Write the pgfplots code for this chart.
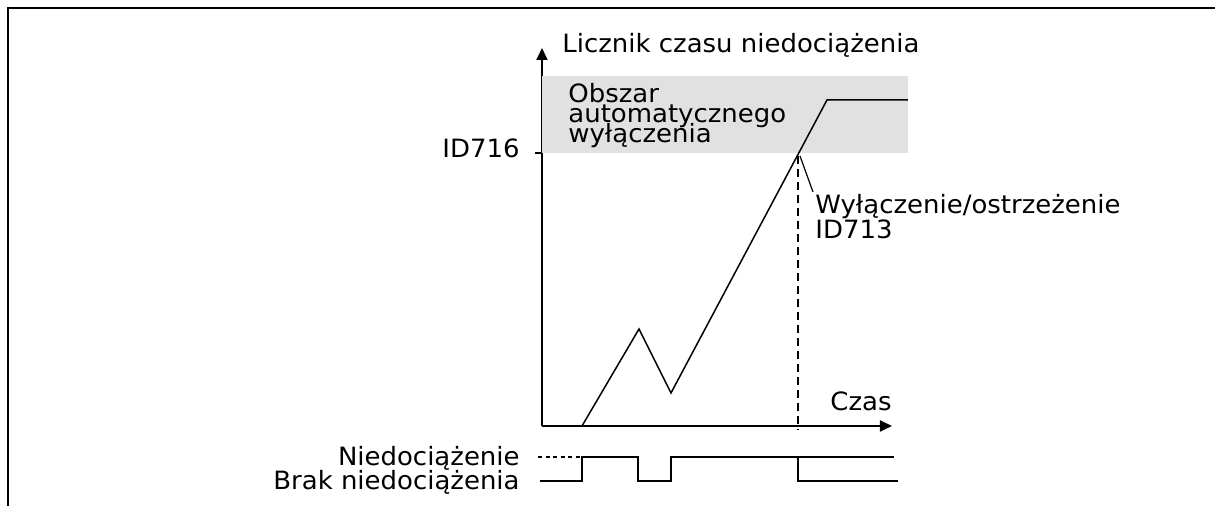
\documentclass[border=0pt]{standalone}
\usepackage{fontspec}
\setmainfont{DejaVu Sans}[FakeStretch=1.03]
\usepackage{pgfplots}
\pgfplotsset{compat=1.18}
\usetikzlibrary{arrows.meta}

\definecolor{band}{HTML}{E1E1E1}

\begin{document}
\begin{tikzpicture}[font=\fontsize{12.6}{10}\selectfont]
% 1 unit = 1 px of the reference (0.5pt)
\begin{axis}[
  scale only axis,
  width=175pt, height=189pt,
  xmin=0, xmax=350, ymin=0, ymax=378,
  axis lines=left,
  axis line style={line width=0.9pt, -{Triangle[length=6pt,width=5.5pt]}},
  xtick=\empty,
  ytick={273}, yticklabels={},
  tick style={black, line width=0.8pt},
  tick align=outside, major tick length=3.5pt,
  clip=false,
]
% auto trip area
\addplot[fill=band, draw=none] coordinates {(0,273) (366,273) (366,350) (0,350)} -- cycle;

% underload counter
\addplot[black, line width=0.75pt] coordinates {
  (0,0) (40,0) (97,97) (129,33) (285,326) (366,326)};

% trip / warning instant
\addplot[black, line width=0.7pt, dash pattern=on 4pt off 2.5pt] coordinates {(256,270) (256,-4)};
\addplot[black, line width=0.6pt] coordinates {(258,270) (271,234)};

% underload signal
\addplot[black, line width=0.75pt] coordinates {
  (-2,-55) (40,-55) (40,-31) (96,-31) (96,-55) (129,-55) (129,-31)
  (256,-31) (256,-55) (356,-55)};
\addplot[black, line width=0.75pt] coordinates {(256,-31) (352,-31)};
\addplot[black, line width=0.7pt, dash pattern=on 2pt off 1.8pt] coordinates {(-4,-31) (40,-31)};

% texts
\node[anchor=base west, inner sep=0pt] at (axis cs:20,373) {Licznik czasu niedociążenia};
\node[anchor=base west, inner sep=0pt] at (axis cs:26,323) {Obszar};
\node[anchor=base west, inner sep=0pt] at (axis cs:26,303) {automatycznego};
\node[anchor=base west, inner sep=0pt] at (axis cs:26,283) {wyłączenia};
\node[anchor=base east, inner sep=0pt] at (axis cs:-22,268.3) {ID716};
\node[anchor=base west, inner sep=0pt] at (axis cs:273,212) {Wyłączenie/ostrzeżenie};
\node[anchor=base west, inner sep=0pt] at (axis cs:273,187) {ID713};
\node[anchor=base east, inner sep=0pt] at (axis cs:350,15) {Czas};
\node[anchor=base east, inner sep=0pt] at (axis cs:-22,-40) {Niedociążenie};
\node[anchor=base east, inner sep=0pt] at (axis cs:-22,-64) {Brak niedociążenia};

% frame
\draw[line width=1pt] (axis cs:673,418) -- (axis cs:-534,418) -- (axis cs:-534,-80);
\coordinate (bl) at (axis cs:-542,-80);
\coordinate (tr) at (axis cs:673,426);
\end{axis}
\pgfresetboundingbox
\path (bl) rectangle (tr);
\end{tikzpicture}
\end{document}
